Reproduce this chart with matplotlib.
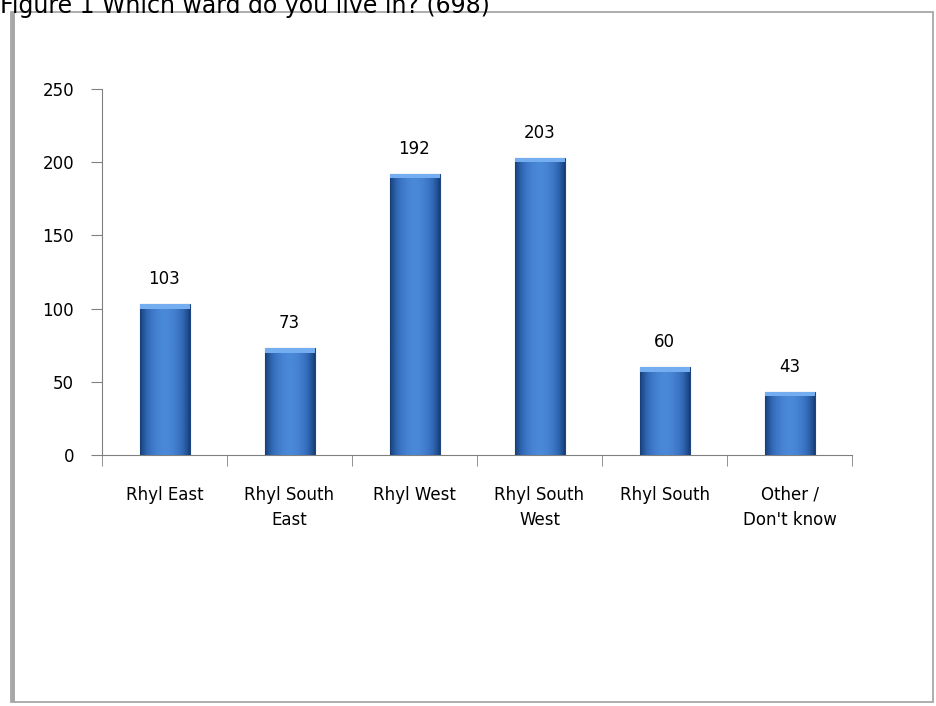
import numpy as np
import matplotlib
matplotlib.use('Agg')
import matplotlib.pyplot as plt
from matplotlib.patches import Rectangle

categories = ["Rhyl East", "Rhyl South\nEast", "Rhyl West", "Rhyl South\nWest", "Rhyl South", "Other /\nDon't know"]
counts = [103, 73, 192, 203, 60, 43]
title = "Figure 1 Which ward do you live in? (698)"

plt.rcParams['font.family'] = ['DejaVu Sans']

fig = plt.figure(figsize=(9.36, 7.06), dpi=100)
fig.patch.set_facecolor('white')

# outer frame with shadowed left edge
fig.add_artist(Rectangle((11 / 936, 4 / 706), 922 / 936, 690 / 706, transform=fig.transFigure,
                         facecolor='none', edgecolor='#a0a0a0', linewidth=1.2))
fig.add_artist(Rectangle((11 / 936, 4 / 706), 4 / 936, 690 / 706, transform=fig.transFigure,
                         facecolor='#a8a8a8', edgecolor='none'))
fig.text(0.0, 1.0 + 6 / 706, title, fontsize=17, ha='left', va='top', color='black')

ax = fig.add_axes([102 / 936, 1 - 455 / 706, 750 / 936, 366 / 706])
x = np.arange(len(categories))
width = 0.4

# gradient fill for bars: dark edges, lighter middle
grad = np.atleast_2d(np.sin(np.linspace(0, np.pi, 41)) ** 0.8)
cmap = matplotlib.colors.LinearSegmentedColormap.from_list('b', ['#173f78', '#3169b6', '#4a88d8'])
bars = ax.bar(x, counts, width=width, color='#3f7ccc', edgecolor='#1d4680', linewidth=0.8, zorder=2)
for b in bars:
    x0, h = b.get_x(), b.get_height()
    im = ax.imshow(grad, cmap=cmap, aspect='auto', extent=[x0, x0 + width, 0, h], zorder=3)
    im.set_clip_path(b)
    ax.add_patch(Rectangle((x0, h - 3), width, 3, facecolor='#75aef0', edgecolor='none', zorder=4))
    ax.text(x0 + width / 2, h + 11, str(int(h)), ha='center', va='bottom', fontsize=12)

ax.set_xlim(-0.5, len(categories) - 0.5)
ax.set_ylim(0, 250)
ax.set_yticks(range(0, 251, 50))
ax.set_xticks(x)
ax.set_xticklabels(categories, fontsize=12, linespacing=1.5)
ax.set_xticks(np.arange(-0.5, len(categories), 1), minor=True)
ax.tick_params(axis='x', which='major', length=0, pad=22)
ax.tick_params(axis='x', which='minor', length=8, color='#808080', direction='out')
ax.tick_params(axis='y', length=8, color='#808080', labelsize=12, pad=12)
for s in ['top', 'right']:
    ax.spines[s].set_visible(False)
ax.spines['left'].set_color('#808080')
ax.spines['bottom'].set_color('#808080')

fig.savefig('out.png', dpi=100)
